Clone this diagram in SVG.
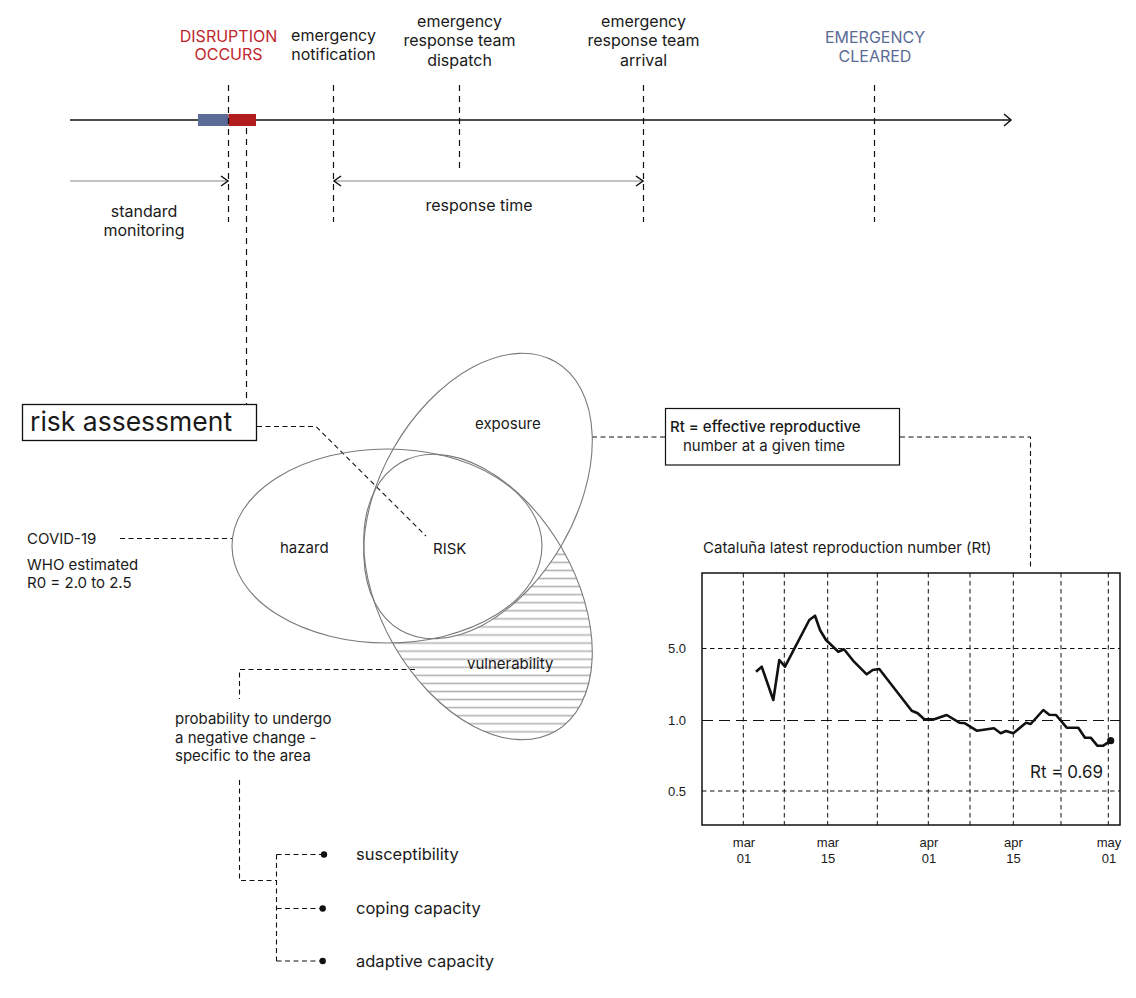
<svg xmlns="http://www.w3.org/2000/svg" width="1136" height="998" viewBox="0 0 1136 998">
<style>
text{font-family:"Inter","Liberation Sans",sans-serif;fill:#1a1a1a}
.t16{font-size:16px}
.t15{font-size:15px}
.mid{text-anchor:middle}
.ax{font-family:"Liberation Sans",Arial,sans-serif;font-size:13px}
.vd{stroke:#111;stroke-width:1.2;stroke-dasharray:6 5;fill:none}
.cd{stroke:#111;stroke-width:1.1;stroke-dasharray:5 3.5;fill:none}
.grid{stroke:#111;stroke-width:1;stroke-dasharray:4.5 3.5;fill:none}
.ell{fill:none;stroke:#7a7a7a;stroke-width:1.1}
.chev{fill:none;stroke:#111;stroke-width:1.5}
</style>
<defs>
<pattern id="hatch" patternUnits="userSpaceOnUse" x="0" y="550.27" width="20" height="8.07">
<line x1="0" y1="4.03" x2="20" y2="4.03" stroke="#b3b3b3" stroke-width="1.6"/>
</pattern>
<mask id="vmask" maskUnits="userSpaceOnUse" x="0" y="0" width="1136" height="998">
<ellipse cx="478" cy="597" rx="155" ry="97" transform="rotate(60 478 597)" fill="#fff"/>
<ellipse cx="387" cy="546" rx="155" ry="97" fill="#000"/>
<ellipse cx="478" cy="496" rx="155" ry="97" transform="rotate(-60 478 496)" fill="#000"/>
</mask>
</defs>
<rect width="1136" height="998" fill="#fff"/>

<g id="timeline">
<line x1="70" y1="120" x2="1010" y2="120" stroke="#111" stroke-width="1.4"/>
<polyline class="chev" points="1004,114 1011,120 1004,126"/>
<rect x="198" y="114" width="30.5" height="12" fill="#5b6b96"/>
<rect x="228.5" y="114" width="27.5" height="12" fill="#b21c1e"/>
</g>

<g id="markers">
<line class="vd" x1="228.5" y1="85" x2="228.5" y2="222"/>
<line class="vd" x1="333.5" y1="85" x2="333.5" y2="222"/>
<line class="vd" x1="459.5" y1="85" x2="459.5" y2="168"/>
<line class="vd" x1="643.5" y1="85" x2="643.5" y2="222"/>
<line class="vd" x1="874.5" y1="85" x2="874.5" y2="222"/>
</g>

<g id="event-disruption">
<text class="t16 mid" x="228.5" y="41.5" style="fill:#c0272d">DISRUPTION</text>
<text class="t16 mid" x="228.5" y="60" style="fill:#c0272d">OCCURS</text>
</g>
<g id="event-notification">
<text class="t16 mid" x="333.5" y="41" >emergency</text>
<text class="t16 mid" x="333.5" y="60">notification</text>
</g>
<g id="event-dispatch">
<text class="t16 mid" x="459.5" y="26.5">emergency</text>
<text class="t16 mid" x="459.5" y="46">response team</text>
<text class="t16 mid" x="459.5" y="65.5">dispatch</text>
</g>
<g id="event-arrival">
<text class="t16 mid" x="643.5" y="26.5">emergency</text>
<text class="t16 mid" x="643.5" y="46">response team</text>
<text class="t16 mid" x="643.5" y="65.5">arrival</text>
</g>
<g id="event-cleared">
<text class="t16 mid" x="875" y="43" style="fill:#5b6b96">EMERGENCY</text>
<text class="t16 mid" x="875" y="62" style="fill:#5b6b96">CLEARED</text>
</g>

<g id="intervals">
<line x1="70" y1="181" x2="228" y2="181" stroke="#888" stroke-width="1.2"/>
<polyline class="chev" points="221,176 228,181 221,186"/>
<text class="t16 mid" x="144" y="216.5">standard</text>
<text class="t16 mid" x="144" y="236">monitoring</text>
<line x1="334" y1="181" x2="643" y2="181" stroke="#888" stroke-width="1.2"/>
<polyline class="chev" points="341,176 334,181 341,186"/>
<polyline class="chev" points="636,176 643,181 636,186"/>
<text class="t16 mid" x="479" y="210.5">response time</text>
</g>

<g id="connectors">
<line class="vd" x1="246.5" y1="128" x2="246.5" y2="404"/>
<polyline class="cd" points="257,426.5 316,426.5 426,536"/>
<line class="cd" x1="120" y1="538.5" x2="233" y2="538.5"/>
<line class="cd" x1="592" y1="437" x2="665" y2="437"/>
<polyline class="cd" points="900,437 1030.5,437 1030.5,569"/>
<polyline class="cd" points="415,669.5 239.5,669.5 239.5,699"/>
<polyline class="cd" points="239.5,780 239.5,880.5 276.5,880.5"/>
<line class="cd" x1="276.5" y1="854.5" x2="276.5" y2="961"/>
<line class="cd" x1="276.5" y1="854.5" x2="322" y2="854.5"/>
<line class="cd" x1="276.5" y1="908.5" x2="321" y2="908.5"/>
<line class="cd" x1="276.5" y1="961" x2="321" y2="961"/>
<circle cx="324" cy="854.5" r="3.2" fill="#111"/>
<circle cx="322.7" cy="908.5" r="3.2" fill="#111"/>
<circle cx="322.7" cy="961" r="3.2" fill="#111"/>
</g>

<g id="risk-assessment">
<rect x="22.5" y="404.5" width="234" height="36" fill="#fff" stroke="#111" stroke-width="1.3"/>
<text x="30" y="431" style="font-size:26.5px">risk assessment</text>
</g>

<g id="venn">
<rect x="0" y="0" width="1136" height="998" fill="url(#hatch)" mask="url(#vmask)"/>
<ellipse id="hazard-ellipse" class="ell" cx="387" cy="546" rx="155" ry="97"/>
<ellipse id="exposure-ellipse" class="ell" cx="478" cy="496" rx="155" ry="97" transform="rotate(-60 478 496)"/>
<ellipse id="vulnerability-ellipse" class="ell" cx="478" cy="597" rx="155" ry="97" transform="rotate(60 478 597)"/>
</g>
<g id="hazard"><text class="t15" x="280" y="553">hazard</text></g>
<g id="exposure"><text class="t15" x="475" y="429">exposure</text></g>
<g id="vulnerability"><text class="t15" x="467" y="668.5">vulnerability</text></g>
<g id="risk"><text class="t15" x="433" y="553.5">RISK</text></g>

<g id="covid">
<text class="t15" x="27" y="544">COVID-19</text>
<text class="t15" x="27" y="569.5">WHO estimated</text>
<text class="t15" x="27" y="587.5">R0 = 2.0 to 2.5</text>
</g>

<g id="vuln-def">
<text class="t15" x="175" y="723.5">probability to undergo</text>
<text class="t15" x="175" y="742.5">a negative change -</text>
<text class="t15" x="175" y="761">specific to the area</text>
</g>
<g id="susceptibility"><text x="356" y="860" style="font-size:16.5px">susceptibility</text></g>
<g id="coping"><text x="356" y="913.5" style="font-size:16.5px">coping capacity</text></g>
<g id="adaptive"><text x="356" y="967" style="font-size:16.5px">adaptive capacity</text></g>

<g id="rt-box">
<rect x="665.5" y="408.5" width="234" height="56.5" fill="#fff" stroke="#111" stroke-width="1.2"/>
<text class="t15" x="670" y="432" style="font-weight:500">Rt = effective reproductive</text>
<text class="t15" x="683" y="451">number at a given time</text>
</g>

<g id="chart">
<text class="t15" x="703" y="553">Cataluña latest reproduction number (Rt)</text>
<line class="grid" x1="743.3" y1="573" x2="743.3" y2="825"/>
<line class="grid" x1="784.3" y1="573" x2="784.3" y2="825"/>
<line class="grid" x1="827.7" y1="573" x2="827.7" y2="825"/>
<line class="grid" x1="877.3" y1="573" x2="877.3" y2="825"/>
<line class="grid" x1="928.3" y1="573" x2="928.3" y2="825"/>
<line class="grid" x1="970" y1="573" x2="970" y2="825"/>
<line class="grid" x1="1013.3" y1="573" x2="1013.3" y2="825"/>
<line class="grid" x1="1061" y1="573" x2="1061" y2="825"/>
<line class="grid" x1="1108.3" y1="573" x2="1108.3" y2="825"/>
<line class="grid" x1="702" y1="648.5" x2="1120" y2="648.5"/>
<line class="grid" x1="702" y1="791" x2="1120" y2="791"/>
<line x1="702" y1="720.5" x2="1120" y2="720.5" stroke="#111" stroke-width="1.1" stroke-dasharray="11 6"/>
<rect x="702" y="573" width="418" height="252" fill="none" stroke="#111" stroke-width="1.5"/>
<polyline fill="none" stroke="#111" stroke-width="2.6" stroke-linejoin="round" points="756,671.7 761.7,666.7 773.3,700 779.3,660 785,666.7 809.3,620 815,615.7 820,630 826,640 838.3,651.7 844,649.3 854,661.7 866.7,674.3 872.7,670 879.3,669 911.7,710.7 917.7,713.3 924.3,719.3 934.3,719.3 946.7,715 959.3,722.7 965,723.3 976.7,730.7 994,728.3 1000.7,733.3 1006,731 1013.3,733.3 1026,722.7 1030.7,724 1043.3,710 1049.3,714.7 1056,715 1066.7,727.7 1078.3,727.7 1085,737.7 1090.7,737.7 1097.3,745.7 1103.3,745.7 1110.7,740.7"/>
<circle cx="1110.7" cy="740.7" r="3.6" fill="#111"/>
<text x="1030" y="778" style="font-size:17px">Rt = 0.69</text>
<text class="ax" x="686" y="653" text-anchor="end">5.0</text>
<text class="ax" x="686" y="724.5" text-anchor="end">1.0</text>
<text class="ax" x="686" y="795.5" text-anchor="end">0.5</text>
<text class="ax mid" x="744" y="847">mar</text>
<text class="ax mid" x="744" y="863">01</text>
<text class="ax mid" x="828" y="847">mar</text>
<text class="ax mid" x="828" y="863">15</text>
<text class="ax mid" x="929" y="847">apr</text>
<text class="ax mid" x="929" y="863">01</text>
<text class="ax mid" x="1013.5" y="847">apr</text>
<text class="ax mid" x="1013.5" y="863">15</text>
<text class="ax mid" x="1109" y="847">may</text>
<text class="ax mid" x="1109" y="863">01</text>
</g>
</svg>
